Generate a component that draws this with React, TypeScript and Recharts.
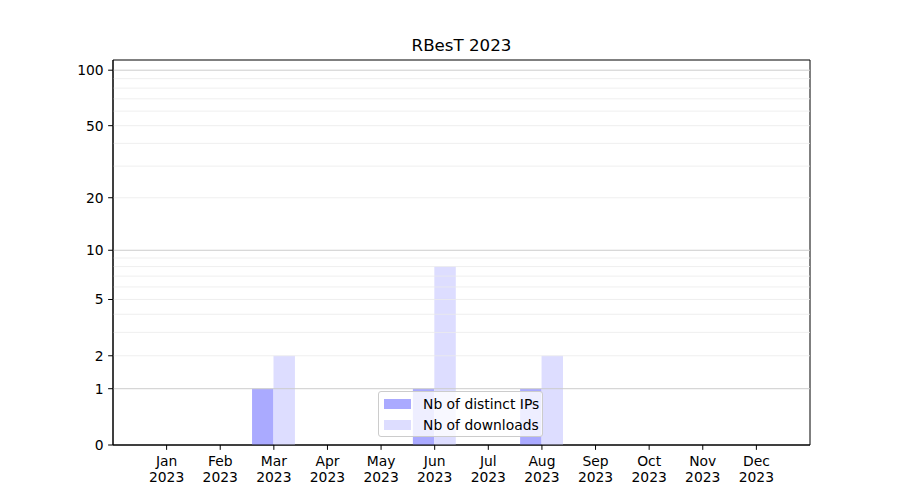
import React from 'react';
import { BarChart, Bar, XAxis, YAxis, ReferenceLine, ReferenceArea, Legend } from 'recharts';

const months = ['Jan', 'Feb', 'Mar', 'Apr', 'May', 'Jun', 'Jul', 'Aug', 'Sep', 'Oct', 'Nov', 'Dec'];
const yearLabel = '2023';
const ips = [0, 0, 1, 0, 0, 1, 0, 1, 0, 0, 0, 0];
const downloads = [0, 0, 2, 0, 0, 8, 0, 2, 0, 0, 0, 0];
const yTickValues = [0, 1, 2, 5, 10, 20, 50, 100];
const majorGrid = [1, 10, 100];
const minorGrid = [2, 3, 4, 5, 6, 7, 8, 9, 20, 30, 40, 50, 60, 70, 80, 90];
const yMax = 113.5;

const title = 'RBesT 2023';
const seriesNames = { ips: 'Nb of distinct IPs', dl: 'Nb of downloads' };
const colors = { ips: '#aaaaff', dl: '#ddddff' };

const yOf = (v: number) => Math.log10(v + 1);

const data = months.map((m, i) => ({ idx: i + 1, m, ips: yOf(ips[i]), dl: yOf(downloads[i]) }));
const xTicks = months.map((_, i) => i + 1);

const FONT = '"DejaVu Sans", sans-serif';
const FS = 13.89;

const XTick = (props: any) => {
  const { x, y, payload } = props;
  const label = months[Math.round(payload.value) - 1] ?? '';
  return (
    <text x={x} y={y} textAnchor="middle" fontSize={FS} fontFamily={FONT} fill="#000">
      <tspan x={x} y={y + 16}>{label}</tspan>
      <tspan x={x} y={y + 32}>{yearLabel}</tspan>
    </text>
  );
};

const LegendBox = () => (
  <div
    style={{
      position: 'relative',
      width: 165,
      height: 46,
      boxSizing: 'border-box',
      border: '1px solid #cccccc',
      borderRadius: 3,
      background: 'rgba(255,255,255,0.8)',
      fontFamily: FONT,
      fontSize: FS,
      color: '#000',
    }}
  >
    {(['ips', 'dl'] as const).map((k, i) => (
      <div key={k}>
        <div
          style={{
            position: 'absolute',
            left: 5,
            top: 7 + i * 21,
            width: 27,
            height: 9.5,
            background: colors[k],
          }}
        />
        <div style={{ position: 'absolute', left: 44, top: 3.5 + i * 21, lineHeight: '16px', whiteSpace: 'nowrap' }}>
          {seriesNames[k]}
        </div>
      </div>
    ))}
  </div>
);

export default function App() {
  return (
    <div style={{ position: 'absolute', left: 0, top: 0, width: 900, height: 500, background: '#fff', fontFamily: FONT }}>
      <div
        style={{
          position: 'absolute',
          left: 113,
          width: 697,
          top: 36,
          textAlign: 'center',
          fontSize: 16.67,
          lineHeight: '20px',
          color: '#000',
        }}
      >
        {title}
      </div>
      <BarChart
        width={900}
        height={500}
        data={data}
        margin={{ top: 60, right: 90, bottom: 0, left: 0 }}
        barGap={0}
        barSize={21.45}
      >
        <XAxis
          dataKey="idx"
          type="number"
          domain={[0, 13]}
          ticks={xTicks}
          allowDataOverflow
          height={55}
          interval={0}
          stroke="#000"
          tick={<XTick />}
          tickSize={4.86}
          tickMargin={0}
          axisLine={{ stroke: '#000', strokeWidth: 1 }}
          tickLine={{ stroke: '#000', strokeWidth: 1 }}
        />
        <YAxis
          type="number"
          width={113}
          domain={[0, yOf(yMax)]}
          allowDataOverflow
          stroke="#000"
          ticks={yTickValues.map(yOf)}
          tickFormatter={(v: number) => String(Math.round(Math.pow(10, v) - 1))}
          tick={{ fontSize: FS, fontFamily: FONT, fill: '#000' }}
          tickSize={4.86}
          tickMargin={4.5}
          axisLine={{ stroke: '#000', strokeWidth: 1 }}
          tickLine={{ stroke: '#000', strokeWidth: 1 }}
        />
        {minorGrid.map((v) => (
          <ReferenceLine key={'mi' + v} y={yOf(v)} stroke="#ebebeb" strokeWidth={0.8} />
        ))}
        {majorGrid.map((v) => (
          <ReferenceLine key={'ma' + v} y={yOf(v)} stroke="#cccccc" strokeWidth={1} />
        ))}
        <Bar dataKey="ips" name={seriesNames.ips} fill={colors.ips} isAnimationActive={false} />
        <Bar dataKey="dl" name={seriesNames.dl} fill={colors.dl} isAnimationActive={false} />
        <ReferenceArea
          x1={0}
          x2={13}
          y1={0}
          y2={yOf(yMax)}
          fill="none"
          fillOpacity={0}
          stroke="#000"
          strokeWidth={1}
          ifOverflow="visible"
        />
        <Legend
          layout="horizontal"
          verticalAlign="middle"
          align="center"
          content={<LegendBox />}
          wrapperStyle={{ left: 378, top: 391, width: 'auto', height: 'auto' }}
        />
      </BarChart>
    </div>
  );
}
